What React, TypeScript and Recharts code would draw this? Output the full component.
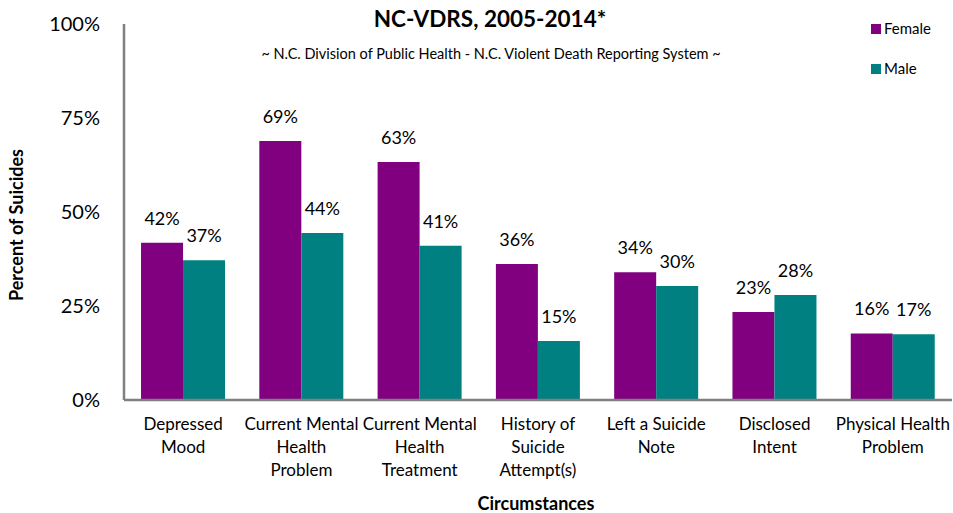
import { BarChart, Bar, XAxis, YAxis, LabelList } from 'recharts'

// categories use \n where the reference wraps the tick text
const categories = [
  'Depressed\nMood',
  'Current Mental\nHealth\nProblem',
  'Current Mental\nHealth\nTreatment',
  'History of\nSuicide\nAttempt(s)',
  'Left a Suicide\nNote',
  'Disclosed\nIntent',
  'Physical Health\nProblem',
]
const female = [41.8, 68.9, 63.3, 36.2, 34, 23.4, 17.7]
const male = [37.2, 44.4, 41, 15.7, 30.3, 27.9, 17.5]
const femaleLabels = ['42%', '69%', '63%', '36%', '34%', '23%', '16%']
const maleLabels = ['37%', '44%', '41%', '15%', '30%', '28%', '17%']
const yTicks = [0, 25, 50, 75, 100]

const FONT = 'Lato, "Open Sans", sans-serif'
const PURPLE = '#800080'
const TEAL = '#008080'
const AXIS = '#808080'

const data = categories.map((c, i) => ({
  name: c,
  female: female[i],
  male: male[i],
  fLabel: femaleLabels[i],
  mLabel: maleLabels[i],
}))

function CategoryTick({ x, y, payload }: any) {
  const lines = String(payload.value).split('\n')
  return (
    <text x={x} y={y + 22} textAnchor="middle" fontFamily={FONT} fontSize={17} fill="#000">
      {lines.map((l, i) => (
        <tspan key={i} x={x} dy={i === 0 ? 0 : 23}>{l}</tspan>
      ))}
    </text>
  )
}

function makeLabel(labels: string[]) {
  return ({ x, y, width, index }: any) => (
    <text
      x={x + width / 2}
      y={y - 18}
      textAnchor="middle"
      fontFamily={FONT}
      fontSize={18}
      fill="#000"
    >
      {labels[index]}
    </text>
  )
}

export default function App() {
  return (
    <div style={{ position: 'absolute', left: 0, top: 0, width: 953, height: 513, background: '#fff' }}>
      <BarChart
        width={953}
        height={513}
        data={data}
        margin={{ top: 24, right: 1, left: 0, bottom: 0 }}
        barCategoryGap="14.4%"
        barGap={0}
      >
        <XAxis
          dataKey="name"
          tick={<CategoryTick />}
          tickLine={false}
          axisLine={{ stroke: AXIS, strokeWidth: 2.5 }}
          height={113}
          interval={0}
        />
        <YAxis
          domain={[0, 100]}
          ticks={yTicks}
          tickFormatter={(v) => `${v}%`}
          tickLine={false}
          tickSize={6}
          tickMargin={18}
          axisLine={{ stroke: AXIS, strokeWidth: 2.5 }}
          width={124}
          tick={{ fontFamily: FONT, fontSize: 20, fill: '#000' }}
        />
        <Bar dataKey="female" fill={PURPLE} isAnimationActive={false}>
          <LabelList dataKey="fLabel" content={makeLabel(femaleLabels)} />
        </Bar>
        <Bar dataKey="male" fill={TEAL} isAnimationActive={false}>
          <LabelList dataKey="mLabel" content={makeLabel(maleLabels)} />
        </Bar>
        <text x={490} y={27} textAnchor="middle" fontFamily={FONT} fontSize={22.5} fontWeight="bold" fill="#000">
          NC-VDRS, 2005-2014*
        </text>
        <text x={491} y={59} textAnchor="middle" fontFamily={FONT} fontSize={14.5} fill="#000">
          ~ N.C. Division of Public Health - N.C. Violent Death Reporting System ~
        </text>
        <text
          x={23}
          y={225}
          transform="rotate(-90 23 225)"
          textAnchor="middle"
          fontFamily={FONT}
          fontSize={18}
          fontWeight="bold"
          fill="#000"
        >
          Percent of Suicides
        </text>
        <text x={536} y={510} textAnchor="middle" fontFamily={FONT} fontSize={18} fontWeight="bold" fill="#000">
          Circumstances
        </text>
        <rect x={871} y={24} width={10} height={10} fill={PURPLE} />
        <text x={884} y={34} fontFamily={FONT} fontSize={15} fill="#000">Female</text>
        <rect x={871} y={64} width={10} height={10} fill={TEAL} />
        <text x={884} y={74} fontFamily={FONT} fontSize={15} fill="#000">Male</text>
      </BarChart>
    </div>
  )
}
